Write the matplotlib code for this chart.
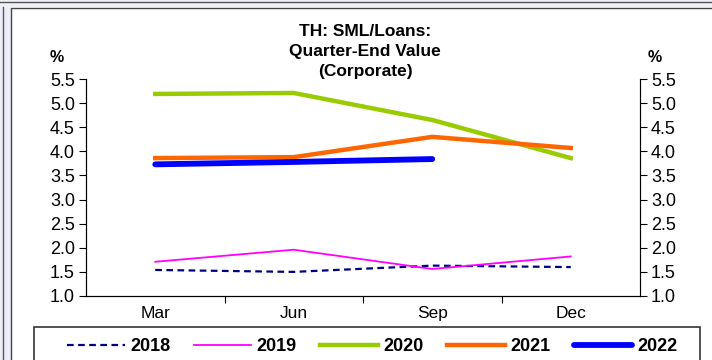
import matplotlib.pyplot as plt
from matplotlib.patches import Rectangle
from matplotlib.lines import Line2D

plt.rcParams['font.family'] = ['Liberation Sans', 'DejaVu Sans']

months = ['Mar', 'Jun', 'Sep', 'Dec']
sml_2018 = [1.54, 1.50, 1.63, 1.60]
sml_2019 = [1.71, 1.96, 1.56, 1.82]
sml_2020 = [5.19, 5.21, 4.65, 3.86]
sml_2021 = [3.86, 3.88, 4.30, 4.07]
sml_2022 = [3.73, 3.78, 3.84]
y_ticks = [1.0, 1.5, 2.0, 2.5, 3.0, 3.5, 4.0, 4.5, 5.0, 5.5]

W, H = 712, 360
fig = plt.figure(figsize=(W / 100, H / 100), dpi=100)

# page strips and outer frame
fig.patches.append(Rectangle((0, 0), 11 / W, 1, transform=fig.transFigure,
                             facecolor='#eeeef8', edgecolor='none', zorder=0))
fig.patches.append(Rectangle((0, 1 - 7 / H), 1, 7 / H, transform=fig.transFigure,
                             facecolor='#f0f0f6', edgecolor='none', zorder=0))
fig.add_artist(Line2D([3 / W, 3 / W], [0, 1 - 7 / H], transform=fig.transFigure,
                      color='#555555', lw=1))
fig.add_artist(Line2D([0, 1], [1 - 2 / H, 1 - 2 / H], transform=fig.transFigure,
                      color='#555555', lw=1))
fig.add_artist(Line2D([11 / W, 11 / W, 1], [0, 1 - 8 / H, 1 - 8 / H],
                      transform=fig.transFigure, color='#444444', lw=1))

ax = fig.add_axes([86 / W, 1 - 296 / H, (640 - 86) / W, (296 - 79) / H])
x = list(range(len(months)))

ax.plot(x, sml_2018, color='#000080', lw=1.6, ls=(0, (3, 2)), label='2018')
ax.plot(x, sml_2019, color='#ff00ff', lw=1.3, label='2019')
ax.plot(x, sml_2020, color='#99cc00', lw=3.2, label='2020')
ax.plot(x, sml_2021, color='#ff6600', lw=3.2, label='2021')
ax.plot(x[:len(sml_2022)], sml_2022, color='#0000ff', lw=4.2,
        solid_capstyle='round', label='2022')

ax.set_xlim(-0.5, 3.5)
ax.set_ylim(1.0, 5.5)
ax.set_yticks(y_ticks)
ax.set_yticklabels([f'{v:.1f}' for v in y_ticks], fontsize=13)
ax.set_xticks([0.5, 1.5, 2.5], minor=False)
ax.set_xticklabels([])
ax.set_xticks(x, minor=True)
ax.set_xticklabels(months, minor=True, fontsize=12.5)
ax.tick_params(axis='x', which='major', length=5, direction='out')
ax.tick_params(axis='x', which='minor', length=0, pad=7)
ax.tick_params(axis='y', length=5, direction='out', pad=3)
ax.spines['top'].set_visible(False)
ax.spines['right'].set_color('#666666')

ax2 = ax.twinx()
ax2.set_ylim(1.0, 5.5)
ax2.set_yticks(y_ticks)
ax2.set_yticklabels([f'{v:.1f}' for v in y_ticks], fontsize=13)
ax2.tick_params(axis='y', length=5, direction='out', pad=3)
ax2.spines['top'].set_visible(False)

fig.text(365 / W, 1 - 24 / H, 'TH: SML/Loans:\nQuarter-End Value\n(Corporate)',
         ha='center', va='top', fontsize=12.5, fontweight='bold', linespacing=1.4)
fig.text(57 / W, 1 - 58 / H, '%', ha='center', va='center', fontsize=11.5, fontweight='bold')
fig.text(655 / W, 1 - 58 / H, '%', ha='center', va='center', fontsize=11.5, fontweight='bold')

# legend box runs off the bottom edge
fig.patches.append(Rectangle((34 / W, -10 / H), (700 - 34) / W, (10 + 360 - 327) / H,
                             transform=fig.transFigure, facecolor='white',
                             edgecolor='#333333', lw=1.2, zorder=1))
handles, labels = ax.get_legend_handles_labels()
leg = fig.legend(handles, labels, loc='upper left', ncol=5, mode='expand',
                 bbox_to_anchor=(56 / W, 1 - 327 / H, (688 - 56) / W, 0),
                 prop={'weight': 'bold', 'size': 13}, frameon=False,
                 handlelength=3.2, handletextpad=0.3, borderaxespad=0, borderpad=0.6)
leg.set_zorder(2)

fig.savefig('out.png', dpi=100)
